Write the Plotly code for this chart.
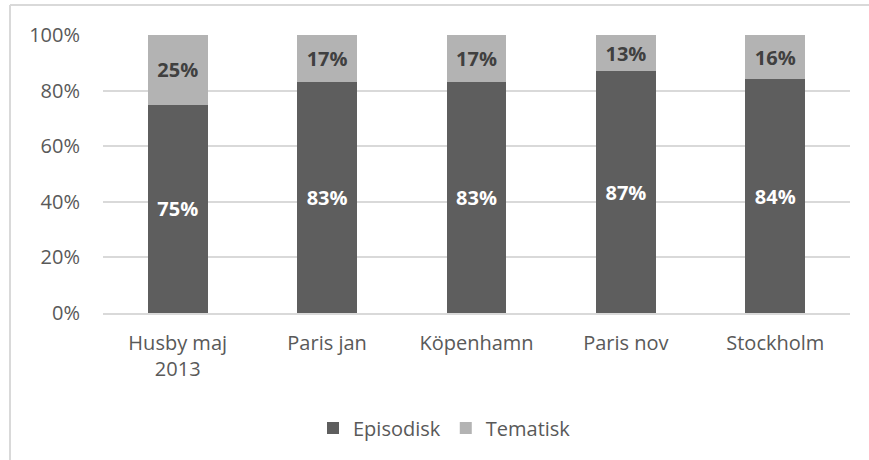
import plotly.graph_objects as go

categories = ["Husby maj<br>2013", "Paris jan", "Köpenhamn", "Paris nov", "Stockholm"]
episodisk = [75, 83, 83, 87, 84]
tematisk = [25, 17, 17, 13, 16]
ytick_vals = [0, 20, 40, 60, 80, 100]
ytick_text = ["0%", "20%", "40%", "60%", "80%", "100%"]

dark = "#5e5e5e"
light = "#b3b3b3"
font_family = "Open Sans, Liberation Sans, sans-serif"

fig = go.Figure()
fig.add_trace(go.Bar(
    x=categories, y=episodisk, name="Episodisk",
    marker=dict(color=dark, line=dict(width=0)),
    text=[f"{v}%" for v in episodisk], textposition="inside",
    insidetextanchor="middle",
    textfont=dict(color="white", size=20, family=font_family, weight="bold"),
    hoverinfo="skip",
))
fig.add_trace(go.Bar(
    x=categories, y=tematisk, name="Tematisk",
    marker=dict(color=light, line=dict(width=0)),
    text=[f"{v}%" for v in tematisk], textposition="inside",
    insidetextanchor="middle",
    textfont=dict(color="#404040", size=20, family=font_family, weight="bold"),
    hoverinfo="skip",
))

W, H = 869, 460
ml, mr, mt, mb = 103, 19, 35, 147
pw, ph = W - ml - mr, H - mt - mb

def px_x(p):
    return (p - ml) / pw

def px_y(p):
    return (H - mb - p) / ph

fig.update_layout(
    width=W, height=H,
    margin=dict(l=ml, r=mr, t=mt, b=mb, autoexpand=False),
    barmode="stack", bargap=0.6,
    plot_bgcolor="white", paper_bgcolor="white",
    font=dict(family=font_family, size=20, color="#595959"),
    showlegend=True,
    legend=dict(orientation="h", x=px_x(313), xanchor="left", y=px_y(428), yanchor="middle",
                font=dict(size=20, color="#595959"), traceorder="normal",
                itemwidth=30, itemclick=False),
    xaxis=dict(showgrid=False, showline=True, linecolor="#d9d9d9", linewidth=1.5,
               ticks="", ticklabelstandoff=11, tickfont=dict(size=20, color="#595959")),
    yaxis=dict(range=[0, 100], tickvals=ytick_vals, ticktext=ytick_text,
               showgrid=True, gridcolor="#d9d9d9", gridwidth=1.5, zeroline=False,
               showline=False, ticks="", ticklabelstandoff=22,
               tickfont=dict(size=20, color="#595959")),
    shapes=[
        dict(type="line", xref="paper", yref="paper", x0=px_x(10), x1=px_x(875),
             y0=px_y(5), y1=px_y(5), line=dict(color="#d9d9d9", width=2)),
        dict(type="line", xref="paper", yref="paper", x0=px_x(10), x1=px_x(10),
             y0=px_y(5), y1=px_y(470), line=dict(color="#d9d9d9", width=2)),
    ],
)

fig.write_html("out.html", config={"displayModeBar": False},
               post_script="document.body.style.margin='0';")
